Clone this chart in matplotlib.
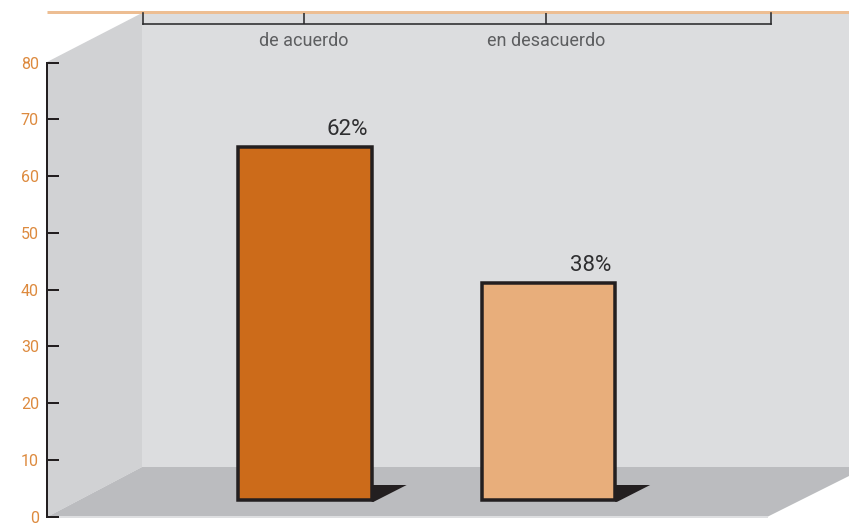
import matplotlib
matplotlib.use('Agg')
import matplotlib.pyplot as plt
from matplotlib.patches import Polygon
from matplotlib.transforms import IdentityTransform
import numpy as np

# ---- data ----
categories = ['de acuerdo', 'en desacuerdo']
values = [62, 38]
value_labels = ['62%', '38%']
yticks = [0, 10, 20, 30, 40, 50, 60, 70, 80]
bar_colors = ['#CC6B1A', '#E8AE7B']

W, H = 849, 524
DPI = 100
plt.rcParams['font.family'] = ['Roboto', 'DejaVu Sans']

fig = plt.figure(figsize=(W / DPI, H / DPI), dpi=DPI)
fig.patch.set_facecolor('white')


def fr(x0, y_top, w, h):
    """pixel rect (left, top, width, height) -> figure fraction"""
    return [x0 / W, (H - y_top - h) / H, w / W, h / H]


PX = 72 / DPI  # points per pixel

# ---- pseudo-3D walls (background decoration) ----
bg = fig.add_axes([0, 0, 1, 1], zorder=0)
bg.set_xlim(0, W)
bg.set_ylim(H, 0)
bg.axis('off')
bg.add_patch(Polygon([(142, 13), (849, 13), (849, 467), (142, 467)],
                     closed=True, fc='#DCDDDF', ec='none'))
bg.add_patch(Polygon([(47, 62), (142, 13), (142, 467), (47, 517)],
                     closed=True, fc='#D1D2D4', ec='none'))
bg.add_patch(Polygon([(47, 517), (142, 467), (849, 467), (849, 476), (767, 517)],
                     closed=True, fc='#BBBCBF', ec='none'))
bg.plot([47, 767], [517, 517], color='#DEDFE1', lw=2 * PX)
bg.plot([47, 849], [11.5, 11.5], color='#EDBE93', lw=3 * PX, solid_capstyle='butt')

# ---- front y axis ----
axy = fig.add_axes(fr(47, 62.7, 95, 454), zorder=2)
axy.patch.set_alpha(0)
axy.set_ylim(0, 80)
axy.set_xlim(0, 1)
for s in ['top', 'right', 'bottom']:
    axy.spines[s].set_visible(False)
axy.spines['left'].set_color('#231F20')
axy.spines['left'].set_linewidth(2 * PX)
axy.set_yticks(yticks)
axy.set_xticks([])
axy.tick_params(axis='y', direction='in', length=12 * PX, width=2 * PX,
                color='#231F20', labelcolor='#DD8A3E', labelsize=11.5, pad=5.8)

# ---- top category bracket axis ----
axt = fig.add_axes(fr(143, 12.5, 628, 11.5), zorder=2)
axt.patch.set_alpha(0)
axt.set_xlim(-0.665, 1.930)
axt.set_ylim(0, 1)
axt.spines['top'].set_visible(False)
for s in ['left', 'right', 'bottom']:
    axt.spines[s].set_color('#2B2B2D')
    axt.spines[s].set_linewidth(1.6 * PX)
axt.set_yticks([])
x = np.arange(len(categories))
axt.set_xticks(x)
axt.set_xticklabels(categories)
axt.tick_params(axis='x', direction='in', length=11.5 * PX, width=1.6 * PX,
                color='#2B2B2D', labelcolor='#5D5E60', labelsize=13, pad=5.5)

# ---- bars ----
axb = fig.add_axes(fr(143, 500 - 456, 628, 456), zorder=3)
axb.patch.set_alpha(0)
axb.set_xlim(-0.665, 1.914)
axb.set_ylim(0, 80)
axb.axis('off')
bw = 0.548
bars = axb.bar(x, values, width=bw, color=bar_colors, edgecolor='#231F20',
               linewidth=3.5 * PX, zorder=3, clip_on=False)

# floor shadows, anchored to each bar's bottom-right corner
fig.canvas.draw()
for xi in x:
    px, py = axb.transData.transform((xi + bw / 2, 0))
    verts = [(px, py + 15), (px + 35, py + 15), (px + 2, py - 1.8), (px, py - 1.8)]
    axb.add_patch(Polygon(verts, closed=True, fc='#231F20', ec='none',
                          transform=IdentityTransform(), zorder=2, clip_on=False))

# value labels
for xi, v, lab in zip(x, values, value_labels):
    axb.annotate(lab, xy=(xi, v), xytext=(42, 12), textcoords='offset pixels',
                 ha='center', va='baseline', fontsize=16, color='#2E2E30')

fig.savefig('out.png', dpi=DPI)
